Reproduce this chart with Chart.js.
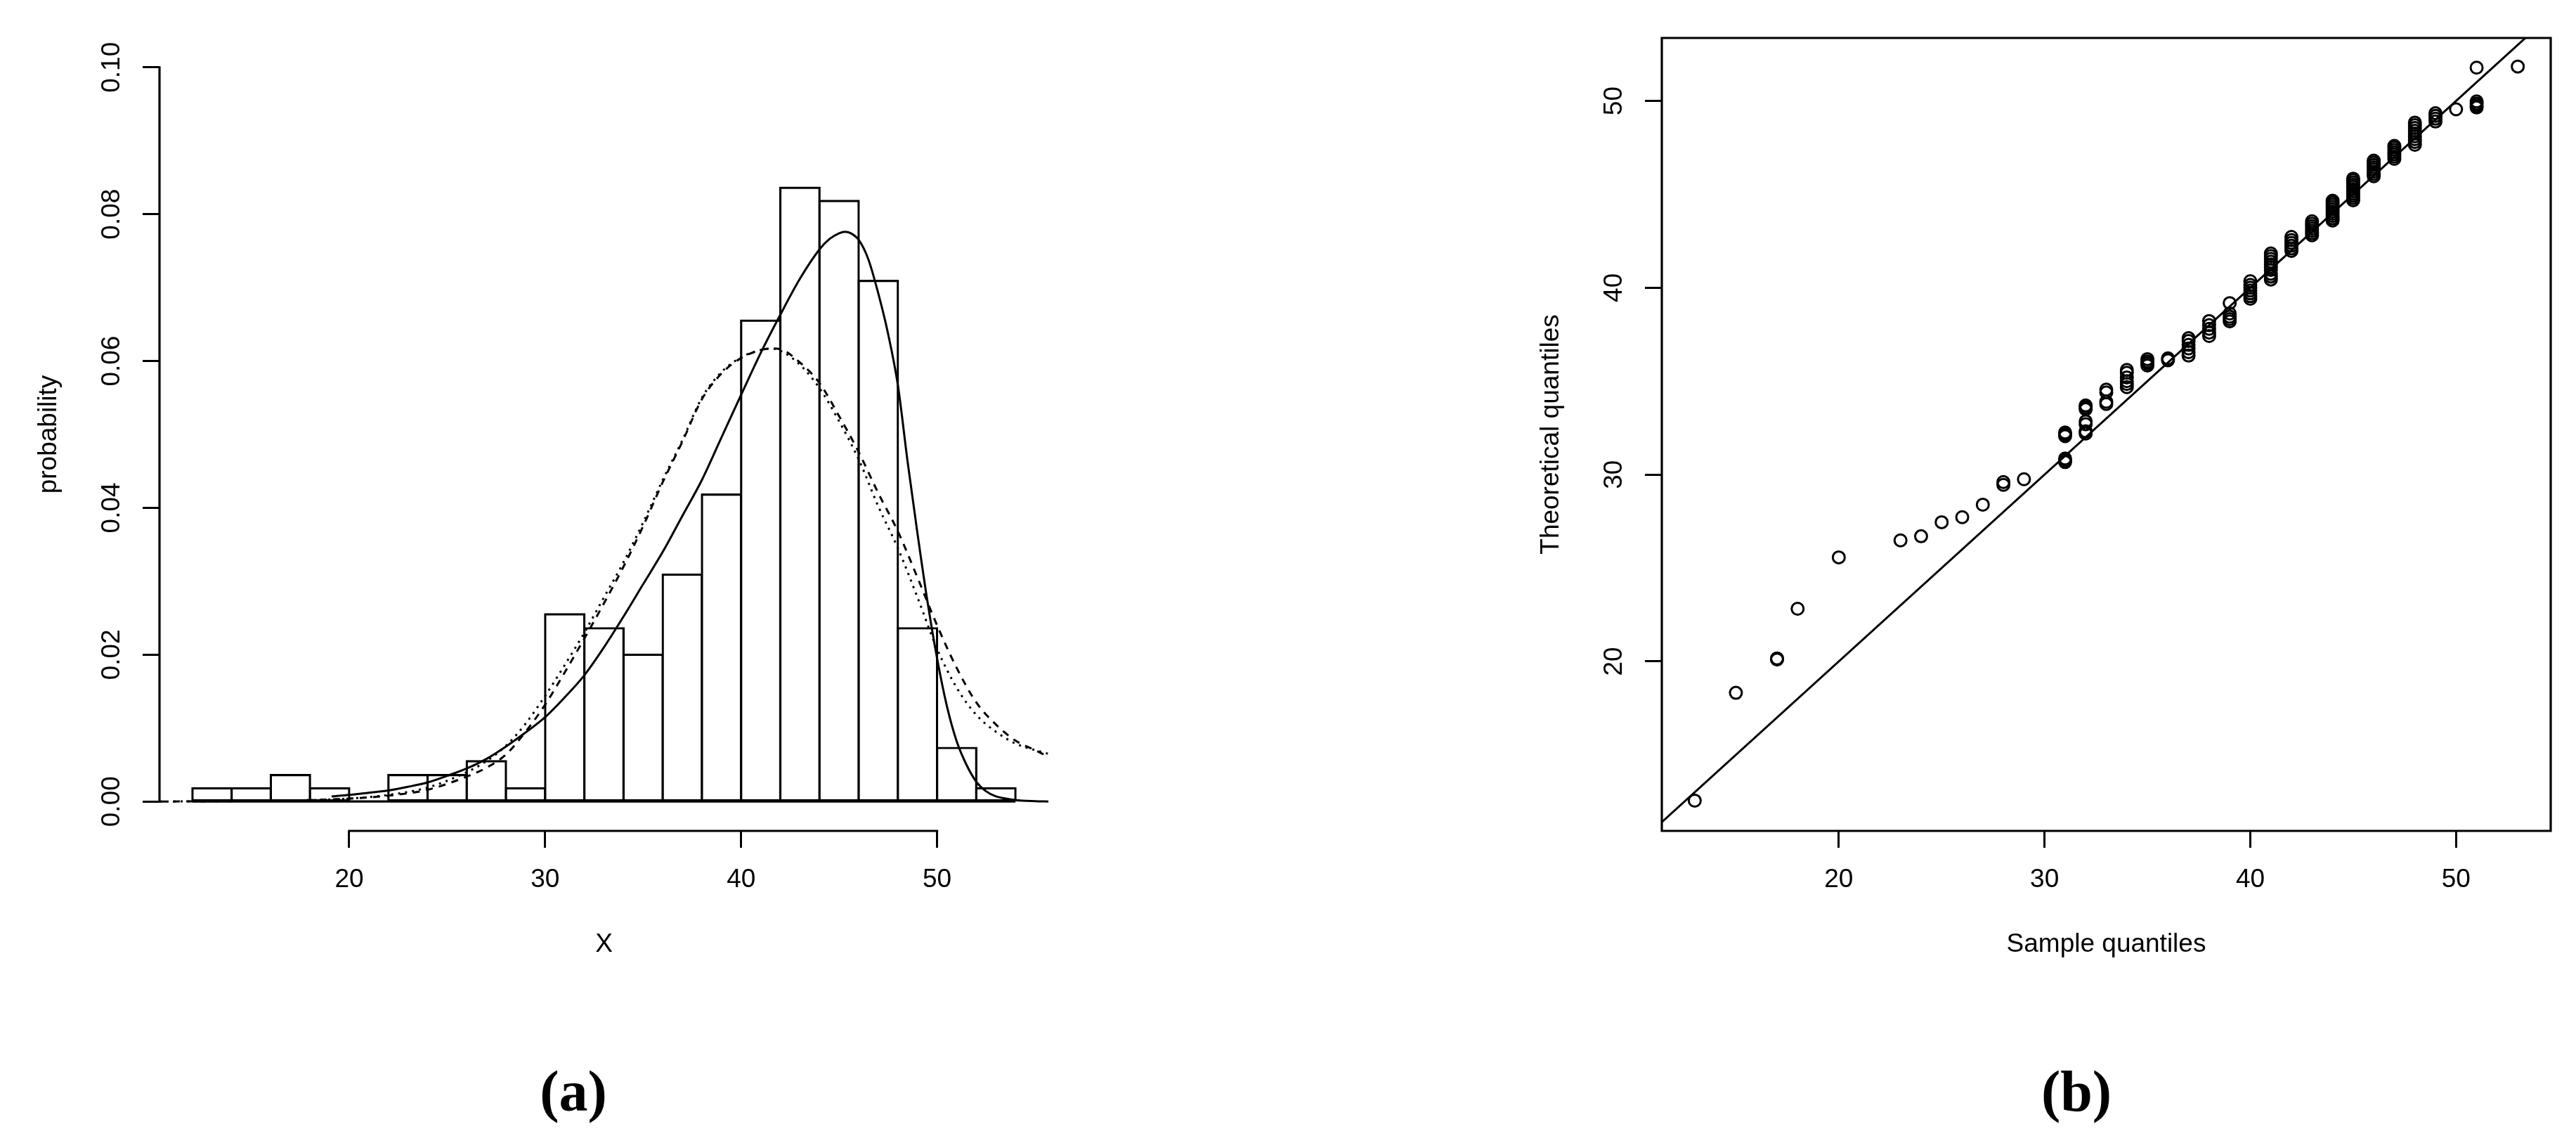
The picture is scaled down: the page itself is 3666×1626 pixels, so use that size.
<!DOCTYPE html>
<html>
<head>
<meta charset="utf-8">
<script src="https://cdn.jsdelivr.net/npm/chart.js@4.4.1/dist/chart.umd.min.js"></script>
<style>
  html, body { margin: 0; padding: 0; background: #fff; }
  body { width: 3666px; height: 1626px; position: relative; overflow: hidden; }
  canvas { position: absolute; top: 0; }
  #histChart { left: 0; }
  #qqChart { left: 1750px; }
  .panel-tag {
    position: absolute; top: 1512px; width: 200px; text-align: center;
    font: bold 82px 'Liberation Serif', 'DejaVu Serif', serif; line-height: 82px; color: #000;
  }
</style>
</head>
<body>
<canvas id="histChart" width="1750" height="1420"></canvas>
<canvas id="qqChart" width="1916" height="1420"></canvas>
<div class="panel-tag" style="left:716px">(a)</div>
<div class="panel-tag" style="left:2855px">(b)</div>
<script>
// ─── Data: histogram (a) ──────────────────────────────────────────────────────

const histBreaks  = [12, 14, 16, 18, 20, 22, 24, 26, 28, 30, 32, 34, 36, 38, 40, 42, 44, 46, 48, 50, 52, 54];
const histDensity = [0.0018, 0.0018, 0.0036, 0.0018, 0, 0.0036, 0.0036, 0.0055, 0.0018, 0.0255, 0.0236,
                     0.0200, 0.0309, 0.0418, 0.0655, 0.0836, 0.0818, 0.0709, 0.0236, 0.0073, 0.0018];

// solid fitted density
const skewX = [19.1, 20, 21, 22, 23, 24, 25, 26, 27, 28, 29, 30, 31, 32, 33, 34, 35, 36, 37, 38, 39, 40,
               41, 42, 43, 44, 44.5, 45, 45.3, 45.6, 46, 46.5, 47, 47.5, 48, 48.5, 49, 49.5, 50, 50.5,
               51, 51.5, 52, 52.5, 53, 53.5, 54, 55, 55.68];
const skewY = [0.0007, 0.0009, 0.0012, 0.0015, 0.0020, 0.0026, 0.0035, 0.0045, 0.0058, 0.0075, 0.0094,
               0.0115, 0.0142, 0.0172, 0.0210, 0.0252, 0.0296, 0.0340, 0.0389, 0.0438, 0.0496, 0.0554,
               0.0611, 0.0663, 0.0712, 0.0752, 0.0766, 0.0774, 0.0776, 0.0774, 0.0765, 0.0738, 0.0692,
               0.0637, 0.0567, 0.0462, 0.0365, 0.0274, 0.0195, 0.0130, 0.0082, 0.0050, 0.0027, 0.0014,
               0.0007, 0.0004, 0.0002, 0.00005, 0];

// dashed and dotted fitted densities
const normX    = [10.32, 12, 14, 16, 18, 20, 22, 24, 26, 27, 28, 29, 30, 31, 32, 33, 34, 35, 36, 37, 38, 39,
                  40, 41, 41.5, 42, 43, 44, 45, 46, 47, 48, 49, 50, 51, 52, 53, 54, 55, 55.68];
const normDashY = [0, 0.00002, 0.00005, 0.0001, 0.0002, 0.0004, 0.0008, 0.0016, 0.0034, 0.0046, 0.0064,
                   0.0095, 0.0132, 0.0176, 0.0222, 0.0270, 0.0320, 0.0375, 0.0435, 0.0490, 0.0548, 0.0583,
                   0.0604, 0.0615, 0.0617, 0.0616, 0.0598, 0.0570, 0.0525, 0.0476, 0.0420, 0.0368, 0.0305,
                   0.0240, 0.0182, 0.0135, 0.0105, 0.0083, 0.0070, 0.0061];
const normDotY  = [0, 0.00002, 0.00005, 0.0001, 0.0002, 0.0004, 0.0009, 0.0019, 0.0040, 0.0055, 0.0076,
                   0.0106, 0.0144, 0.0186, 0.0230, 0.0278, 0.0326, 0.0380, 0.0438, 0.0492, 0.0550, 0.0585,
                   0.0605, 0.0615, 0.0617, 0.0614, 0.0595, 0.0563, 0.0518, 0.0466, 0.0402, 0.0345, 0.0278,
                   0.0208, 0.0155, 0.0118, 0.0095, 0.0079, 0.0070, 0.0065];

const histXTicks = [20, 30, 40, 50];
const histYTicks = [0, 0.02, 0.04, 0.06, 0.08, 0.10];

// ─── Data: Q-Q plot (b) ───────────────────────────────────────────────────────

const qqSample = [13, 15, 17, 18, 20, 23, 24, 25, 26, 27, 28, 29, 31, 32, 33, 34, 35, 36, 37, 38, 39,
                  40, 41, 42, 43, 44, 45, 46, 47, 48, 49, 50, 51, 53];
const qqTheory = [
  [12.55], [18.32], [20.10, 20.16], [22.82], [25.57], [26.48], [26.70], [27.45], [27.72], [28.39],
  [29.45, 29.60], [29.75],
  [30.67, 30.78, 30.86, 32.06, 32.15, 32.25],
  [32.20, 32.32, 32.70, 32.85, 33.50, 33.60, 33.70],
  [33.78, 33.90, 34.40, 34.55],
  [34.68, 34.85, 35.00, 35.20, 35.45, 35.60],
  [35.84, 35.95, 36.05, 36.18],
  [36.12, 36.22],
  [36.37, 36.55, 36.75, 36.95, 37.15, 37.30],
  [37.42, 37.60, 37.80, 38.00, 38.22],
  [38.20, 38.32, 38.45, 38.62, 39.18],
  [39.41, 39.55, 39.70, 39.85, 40.00, 40.15, 40.35],
  [40.44, 40.60, 40.75, 40.95, 41.10, 41.25, 41.40, 41.55, 41.70, 41.84],
  [41.97, 42.10, 42.25, 42.40, 42.55, 42.72],
  [42.81, 42.93, 43.05, 43.17, 43.30, 43.43, 43.56],
  [43.60, 43.72, 43.84, 43.96, 44.08, 44.20, 44.32, 44.44, 44.56, 44.66],
  [44.68, 44.80, 44.92, 45.04, 45.16, 45.28, 45.40, 45.52, 45.64, 45.76, 45.84],
  [45.97, 46.09, 46.21, 46.33, 46.45, 46.57, 46.69, 46.80],
  [46.90, 47.02, 47.14, 47.26, 47.38, 47.50, 47.59],
  [47.65, 47.80, 47.95, 48.10, 48.25, 48.40, 48.55, 48.70, 48.84],
  [48.90, 49.05, 49.20, 49.34],
  [49.55],
  [49.65, 49.75, 49.85, 49.97, 51.78],
  [51.84],
];
const qqLine  = [10, 56];   // reference line y = x
const qqTicks = [20, 30, 40, 50];

// ─── Shared style ─────────────────────────────────────────────────────────────

Chart.defaults.font.family = "'Liberation Sans', Arial, sans-serif";
Chart.defaults.color = '#000';
Chart.defaults.animation = false;

const INK = '#000';
const LW  = 3;

// R draws its axis line only between the first and last tick; panel (b) gets a full box
const rAxes = {
  id: 'rAxes',
  afterDraw(chart, args, opts) {
    const { ctx, chartArea: a, scales: { x, y } } = chart;
    ctx.save();
    ctx.strokeStyle = INK;
    ctx.lineWidth = 3.2;
    ctx.lineCap = 'square';
    ctx.beginPath();
    if (opts.box) {
      ctx.rect(a.left, a.top, a.right - a.left, a.bottom - a.top);
    } else {
      ctx.moveTo(x.getPixelForValue(opts.xTicks[0]), a.bottom);
      ctx.lineTo(x.getPixelForValue(opts.xTicks[opts.xTicks.length - 1]), a.bottom);
      ctx.moveTo(a.left, y.getPixelForValue(opts.yTicks[0]));
      ctx.lineTo(a.left, y.getPixelForValue(opts.yTicks[opts.yTicks.length - 1]));
    }
    ctx.stroke();
    ctx.restore();
  },
};

function rScale({ min, max, ticks, fmt, title, titlePad, tickPad, size, vertical }) {
  return {
    type: 'linear', min, max, offset: false,
    afterBuildTicks: s => { s.ticks = ticks.map(v => ({ value: v })); },
    afterFit: s => { if (vertical) s.width = size; else s.height = size; },
    border: { display: false },
    grid: { display: true, offset: false, drawOnChartArea: false, drawTicks: true, tickLength: 24, lineWidth: 3, color: INK },
    ticks: {
      color: INK, font: { size: 37 }, padding: tickPad, autoSkip: false, callback: fmt,
      minRotation: vertical ? 90 : 0, maxRotation: vertical ? 90 : 0, crossAlign: vertical ? 'center' : 'near',
    },
    title: {
      display: true, text: title, color: INK, font: { size: 37 },
      padding: vertical ? { top: titlePad, bottom: 0 } : { top: 0, bottom: titlePad },
    },
  };
}

const line = (xs, ys, dash) => ({
  type: 'line',
  data: xs.map((x, i) => ({ x, y: ys[i] })),
  borderColor: INK, borderWidth: LW, borderDash: dash, borderCapStyle: 'butt',
  pointRadius: 0, cubicInterpolationMode: 'monotone', fill: false,
});

// ─── (a) histogram with fitted densities ──────────────────────────────────────

new Chart(document.getElementById('histChart'), {
  type: 'bar',
  data: {
    datasets: [
      { ...line(skewX, skewY, []), order: 1 },
      { ...line(normX, normDashY, [10, 9]), order: 2 },
      { ...line(normX, normDotY, [3, 7]), order: 3 },
      { ...line([histBreaks[0], histBreaks[histBreaks.length - 1]], [0, 0], []), tension: 0, borderWidth: 3.2, order: 4 },
      {
        type: 'bar', order: 5,
        data: histDensity.map((d, i) => ({ x: (histBreaks[i] + histBreaks[i + 1]) / 2, y: d })),
        backgroundColor: ctx => (ctx.raw && ctx.raw.y > 0 ? '#fff' : 'rgba(0,0,0,0)'),
        borderColor: INK, borderWidth: 3.2, borderSkipped: false, inflateAmount: 1.6,
        barPercentage: 1, categoryPercentage: 1, grouped: false,
      },
    ],
  },
  options: {
    responsive: false,
    layout: { padding: { left: 0, top: 54, right: 258, bottom: 0 } },
    plugins: {
      legend: { display: false }, tooltip: { enabled: false },
      rAxes: { xTicks: histXTicks, yTicks: histYTicks },
    },
    scales: {
      x: rScale({ min: 10.32, max: 55.68, ticks: histXTicks, fmt: v => String(v), title: 'X', titlePad: 54, tickPad: 24, size: 238 }),
      y: rScale({ min: -0.004, max: 0.104, ticks: histYTicks, fmt: v => v.toFixed(2), title: 'probability', titlePad: 48, tickPad: 7, size: 227, vertical: true }),
    },
  },
  plugins: [rAxes],
});

// ─── (b) normal Q-Q plot ──────────────────────────────────────────────────────

const qqPoints = [];
qqSample.forEach((s, i) => qqTheory[i].forEach(t => qqPoints.push({ x: s, y: t })));

new Chart(document.getElementById('qqChart'), {
  type: 'scatter',
  data: {
    datasets: [
      { ...line(qqLine, qqLine, []), tension: 0, order: 1 },
      {
        type: 'scatter', order: 2, data: qqPoints,
        pointStyle: 'circle', pointRadius: 8.5, pointBorderWidth: 3,
        pointBorderColor: INK, pointBackgroundColor: 'rgba(0,0,0,0)',
      },
    ],
  },
  options: {
    responsive: false,
    layout: { padding: { left: 400, top: 54, right: 36, bottom: 0 } },
    plugins: {
      legend: { display: false }, tooltip: { enabled: false },
      rAxes: { box: true },
    },
    scales: {
      x: rScale({ min: 11.4, max: 54.6, ticks: qqTicks, fmt: v => String(v), title: 'Sample quantiles', titlePad: 54, tickPad: 24, size: 238 }),
      y: rScale({ min: 10.93, max: 53.37, ticks: qqTicks, fmt: v => String(v), title: 'Theoretical quantiles', titlePad: 36, tickPad: 23, size: 215, vertical: true }),
    },
  },
  plugins: [rAxes],
});
</script>
</body>
</html>
